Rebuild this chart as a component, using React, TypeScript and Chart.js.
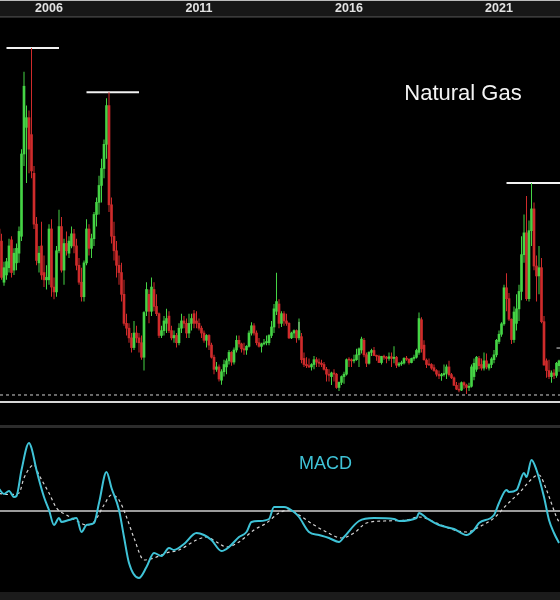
import React, { useEffect, useRef } from 'react';
import { Chart, registerables } from 'chart.js';

Chart.register(...registerables);

// ---------- data ----------
const START_MONTH = '2004-11'; // first monthly candle
const YEAR_TICKS = ['2006', '2011', '2016', '2021'];
const TITLE = 'Natural Gas';
const MACD_TITLE = 'MACD';

// monthly candles, Nov 2004 .. Jul 2023
const OPEN = [
  8.3, 7.8,
  6.1, 6.4, 6.7, 7.85, 6.6, 6.9, 7.3, 8.0, 11.4, 12.5, 12.9, 12.2,
  10.6, 8.5, 6.9, 7.6, 6.5, 6.2, 6.2, 8.3, 5.9, 5.7, 7.4, 8.4,
  6.6, 7.7, 7.3, 7.6, 8.1, 7.6, 6.8, 6.1, 5.5, 6.9, 8.3, 7.5,
  7.9, 8.9, 9.4, 10.1, 10.8, 11.8, 13.4, 9.3, 8.0, 7.4, 6.8, 6.5,
  5.6, 4.4, 4.2, 3.8, 3.4, 4.0, 3.8, 3.6, 3.0, 4.9, 5.6, 4.9,
  5.8, 5.1, 4.8, 3.9, 4.1, 4.4, 4.7, 4.1, 3.8, 3.9, 3.6, 4.2,
  4.5, 4.4, 4.0, 4.4, 4.8, 4.5, 4.4, 4.2, 4.0, 3.7, 3.9, 3.5,
  3.0, 2.5, 2.6, 2.05, 2.4, 2.6, 2.85, 3.2, 2.8, 3.3, 3.7, 3.55,
  3.35, 3.3, 3.45, 4.0, 4.3, 4.0, 3.6, 3.45, 3.55, 3.6, 3.6, 3.9,
  4.25, 4.9, 5.2, 4.4, 4.8, 4.5, 4.4, 3.8, 4.0, 4.1, 3.8, 3.85,
  2.95, 2.7, 2.65, 2.6, 2.7, 2.9, 2.8, 2.75, 2.7, 2.5, 2.3, 2.2,
  2.35, 2.3, 1.75, 1.96, 2.2, 2.3, 2.9, 2.88, 2.85, 2.9, 3.1, 3.3,
  3.7, 3.1, 2.75, 3.2, 3.28, 3.07, 3.04, 2.78, 3.04, 3.0, 2.95, 3.02,
  2.95, 3.0, 2.67, 2.73, 2.76, 2.95, 2.92, 2.78, 2.95, 3.0, 3.2, 4.55,
  3.5, 2.88, 2.72, 2.7, 2.57, 2.45, 2.3, 2.23, 2.28, 2.33, 2.6, 2.28,
  2.15, 1.84, 1.68, 1.64, 1.95, 1.85, 1.75, 1.8, 2.2, 2.5, 2.95, 2.7,
  2.55, 2.85, 2.55, 2.7, 2.9, 3.1, 3.65, 3.95, 4.38, 5.87, 5.42, 4.57,
  3.73, 4.4, 5.0, 5.72, 7.24, 8.14, 5.42, 8.23, 9.13, 6.77, 6.36, 6.7,
  4.47, 2.85, 2.45, 2.2, 2.35, 2.25, 2.65,
];
const HIGH = [
  8.6, 8.1,
  6.95, 7.1, 7.9, 8.0, 7.5, 7.7, 8.4, 11.6, 14.8, 13.4, 13.2, 15.78,
  10.9, 8.8, 7.6, 8.6, 7.2, 6.8, 8.5, 8.7, 6.3, 7.6, 9.1, 8.8,
  7.9, 8.2, 8.0, 8.4, 8.3, 7.9, 7.1, 6.7, 7.0, 8.7, 8.5, 8.1,
  9.0, 9.6, 10.5, 11.2, 12.0, 13.7, 13.95, 9.6, 8.6, 7.8, 7.2, 6.9,
  6.2, 4.8, 4.4, 4.0, 4.5, 4.3, 4.0, 3.9, 4.9, 6.1, 5.8, 6.3,
  6.1, 5.6, 4.85, 4.3, 4.7, 5.0, 4.9, 4.3, 4.1, 4.0, 4.4, 4.8,
  4.7, 4.6, 4.8, 4.8, 4.95, 4.9, 4.6, 4.3, 4.1, 3.95, 3.95, 3.6,
  3.1, 2.8, 2.7, 2.5, 2.9, 2.95, 3.3, 3.25, 3.4, 3.9, 3.9, 3.6,
  3.6, 3.5, 4.1, 4.45, 4.4, 4.1, 3.8, 3.6, 3.75, 3.9, 3.95, 4.5,
  5.2, 6.49, 5.4, 4.9, 4.9, 4.8, 4.45, 4.05, 4.15, 4.15, 4.6, 4.0,
  3.2, 3.0, 2.95, 2.75, 3.05, 3.0, 2.95, 2.9, 2.8, 2.6, 2.5, 2.4,
  2.5, 2.35, 2.0, 2.25, 2.4, 2.95, 3.0, 2.95, 3.1, 3.35, 3.4, 3.85,
  3.8, 3.2, 3.25, 3.35, 3.42, 3.1, 3.1, 3.05, 3.1, 3.05, 3.2, 3.2,
  3.45, 3.05, 2.8, 2.85, 3.0, 3.05, 2.95, 2.98, 3.1, 3.35, 4.85, 4.65,
  3.7, 2.95, 2.95, 2.75, 2.7, 2.5, 2.45, 2.35, 2.7, 2.7, 2.85, 2.35,
  2.2, 1.98, 1.95, 2.0, 2.0, 1.9, 1.95, 2.7, 2.95, 3.05, 3.05, 2.95,
  3.2, 3.15, 2.75, 3.0, 3.3, 3.75, 4.1, 4.45, 6.0, 6.47, 5.65, 4.6,
  5.1, 5.6, 6.0, 8.0, 8.9, 9.66, 8.65, 10.2, 9.4, 7.2, 7.6, 7.1,
  4.7, 2.95, 2.9, 2.45, 2.5, 2.8, 2.9,
];
const LOW = [
  7.4, 6.2,
  5.95, 6.2, 6.5, 6.3, 6.4, 6.6, 6.9, 7.8, 10.9, 10.2, 10.6, 10.4,
  8.3, 6.8, 6.5, 6.2, 5.9, 5.8, 6.0, 5.5, 5.4, 5.5, 7.3, 6.5,
  6.0, 7.2, 7.1, 7.5, 7.3, 6.6, 6.0, 5.3, 5.3, 6.8, 7.2, 7.1,
  7.6, 8.4, 8.9, 9.4, 10.4, 11.2, 9.0, 7.7, 7.0, 6.3, 6.0, 5.3,
  4.3, 3.9, 3.6, 3.2, 3.3, 3.6, 3.2, 2.9, 2.45, 4.7, 4.4, 4.7,
  4.9, 4.7, 3.8, 3.8, 3.9, 4.0, 4.0, 3.7, 3.6, 3.4, 3.5, 4.0,
  4.2, 3.8, 3.8, 4.1, 4.2, 4.2, 4.1, 3.8, 3.6, 3.4, 3.3, 2.95,
  2.3, 2.4, 2.0, 1.86, 2.2, 2.3, 2.7, 2.65, 2.7, 3.2, 3.4, 3.2,
  3.1, 3.1, 3.4, 3.9, 3.9, 3.5, 3.4, 3.2, 3.5, 3.5, 3.5, 3.8,
  4.0, 4.75, 4.2, 4.25, 4.3, 4.3, 3.75, 3.75, 3.8, 3.6, 3.7, 2.75,
  2.6, 2.55, 2.55, 2.45, 2.5, 2.6, 2.6, 2.6, 2.45, 2.0, 2.0, 1.85,
  2.0, 1.7, 1.6, 1.85, 1.9, 2.25, 2.6, 2.6, 2.75, 2.85, 2.6, 3.15,
  3.0, 2.6, 2.7, 3.05, 3.05, 2.85, 2.76, 2.7, 2.9, 2.75, 2.85, 2.6,
  2.75, 2.55, 2.6, 2.65, 2.7, 2.85, 2.7, 2.75, 2.85, 2.95, 3.1, 3.2,
  2.85, 2.55, 2.65, 2.48, 2.4, 2.2, 2.1, 2.03, 2.2, 2.1, 2.2, 2.1,
  1.82, 1.65, 1.55, 1.6, 1.7, 1.48, 1.6, 1.75, 2.05, 2.4, 2.5, 2.45,
  2.45, 2.5, 2.45, 2.55, 2.75, 3.0, 3.55, 3.85, 4.3, 4.9, 4.5, 3.55,
  3.6, 4.1, 4.5, 5.35, 6.9, 5.33, 5.3, 7.6, 6.6, 5.3, 5.6, 4.4,
  2.65, 2.15, 2.1, 1.95, 2.1, 2.15, 2.4,
];
const CLOSE = [
  7.6, 6.3,
  6.7, 6.95, 7.6, 6.5, 7.3, 7.5, 8.2, 11.4, 14.2, 12.9, 11.6, 10.7,
  8.5, 7.0, 7.3, 6.4, 6.2, 6.3, 8.3, 5.9, 5.7, 7.4, 8.4, 6.6,
  7.7, 7.4, 7.8, 8.1, 7.6, 6.8, 6.1, 5.5, 6.9, 8.3, 7.5, 7.9,
  8.9, 9.4, 10.1, 10.8, 11.8, 13.4, 9.3, 8.0, 7.4, 6.8, 6.5, 5.6,
  4.4, 4.2, 3.8, 3.4, 4.0, 3.8, 3.6, 3.0, 4.85, 5.8, 4.9, 5.9,
  5.1, 4.8, 3.9, 4.1, 4.5, 4.6, 4.1, 3.8, 3.9, 3.6, 4.2, 4.5,
  4.4, 4.0, 4.4, 4.6, 4.4, 4.4, 4.2, 4.0, 3.7, 3.9, 3.5, 3.0,
  2.5, 2.6, 2.1, 2.4, 2.7, 2.85, 3.2, 2.8, 3.3, 3.7, 3.55, 3.35,
  3.3, 3.45, 4.0, 4.3, 4.0, 3.6, 3.45, 3.55, 3.56, 3.65, 3.9, 4.25,
  5.0, 5.3, 4.4, 4.8, 4.5, 4.4, 3.8, 4.0, 4.1, 3.8, 4.1, 2.9,
  2.7, 2.65, 2.6, 2.7, 2.9, 2.8, 2.75, 2.7, 2.5, 2.3, 2.25, 2.35,
  2.3, 1.75, 1.96, 2.2, 2.3, 2.9, 2.88, 2.85, 2.9, 3.1, 3.35, 3.75,
  3.1, 2.75, 3.2, 3.28, 3.07, 3.04, 2.78, 3.04, 3.0, 2.95, 3.02, 2.95,
  3.0, 2.67, 2.73, 2.76, 2.95, 2.92, 2.78, 2.95, 3.0, 3.28, 4.6, 3.35,
  2.9, 2.7, 2.68, 2.55, 2.45, 2.3, 2.23, 2.28, 2.33, 2.6, 2.28, 2.15,
  1.84, 1.68, 1.64, 1.95, 1.85, 1.75, 1.8, 2.6, 2.75, 3.0, 2.65, 2.55,
  2.85, 2.6, 2.7, 2.93, 3.1, 3.7, 3.95, 4.38, 5.87, 5.42, 4.57, 3.73,
  4.87, 5.0, 5.72, 7.24, 8.14, 5.42, 8.23, 9.13, 6.77, 6.36, 6.7, 4.47,
  2.68, 2.45, 2.2, 2.35, 2.25, 2.75, 2.85,
];

// horizontal resistance lines at the three peaks
const PEAK_LEVELS = [15.78, 13.95, 10.2];
const PEAK_FROM = ['2005-02', '2007-10', '2021-10'];
const PEAK_TO = ['2006-11', '2009-07', '2023-09'];
const SUPPORT_LEVEL = 1.44;

// small white marks on the chart
const MARK_V_MONTH = '2014-11';
const MARK_V_RANGE = [3.92, 4.46];
const MARK_H_MONTHS = ['2023-06', '2023-09'];
const MARK_H_LEVEL = 3.38;

// MACD line
const MACD_MONTHS = ['2004-11','2005-01','2005-03','2005-05','2005-06','2005-08','2005-11','2005-12','2006-02','2006-05','2006-07','2006-09','2006-11','2006-12','2007-03','2007-06','2007-08','2007-10','2008-01','2008-03','2008-06','2008-08','2008-11','2009-01','2009-03','2009-07','2009-10','2010-01','2010-04','2010-07','2010-09','2011-01','2011-06','2011-09','2011-12','2012-04','2012-07','2012-11','2013-02','2013-04','2013-07','2013-11','2014-01','2014-05','2014-09','2014-11','2015-03','2015-07','2015-11','2016-03','2016-05','2016-11','2017-05','2018-01','2018-03','2018-10','2018-11','2019-02','2019-07','2020-01','2020-06','2020-09','2020-11','2021-05','2021-07','2021-10','2021-11','2022-02','2022-05','2022-06','2022-08','2022-10','2023-01','2023-03','2023-05','2023-07'];
const MACD_VALUES = [0.88,0.68,0.80,0.56,0.60,1.64,2.72,2.52,1.64,0.56,0.04,-0.56,-0.28,-0.44,-0.36,-0.28,-0.84,-0.56,-0.48,0.32,1.56,0.92,0.04,-1.04,-2.08,-2.68,-2.24,-1.68,-1.80,-1.48,-1.56,-1.32,-0.88,-0.96,-1.16,-1.60,-1.44,-1.04,-0.84,-0.44,-0.40,-0.32,0.16,0.16,-0.04,-0.24,-0.84,-0.96,-1.08,-1.24,-1.04,-0.40,-0.28,-0.32,-0.40,-0.28,-0.08,-0.28,-0.56,-0.72,-0.96,-0.76,-0.48,-0.16,0.32,0.84,0.76,0.84,1.52,1.36,2.04,1.64,0.56,-0.36,-0.88,-1.28];

// signal line (dashed)
const SIGNAL_MONTHS = ['2004-11','2005-03','2005-07','2005-09','2006-01','2006-03','2006-07','2006-10','2007-02','2007-07','2007-10','2008-01','2008-05','2008-08','2008-11','2009-02','2009-05','2009-09','2010-01','2010-06','2010-11','2011-06','2011-10','2012-02','2012-06','2012-11','2013-05','2013-10','2014-03','2014-07','2014-11','2015-05','2015-10','2016-04','2016-09','2017-02','2017-09','2018-06','2018-11','2019-06','2020-01','2020-06','2020-11','2021-05','2021-10','2022-03','2022-09','2022-11','2023-02','2023-06','2023-07'];
const SIGNAL_VALUES = [0.70,0.66,0.72,1.32,1.84,1.44,0.72,0.12,-0.16,-0.44,-0.56,-0.44,0.24,0.64,0.44,-0.24,-1.08,-1.96,-1.88,-1.68,-1.56,-1.16,-1.04,-1.24,-1.44,-1.24,-0.76,-0.48,-0.08,0.04,-0.16,-0.56,-0.84,-1.08,-0.88,-0.48,-0.40,-0.36,-0.24,-0.48,-0.76,-0.84,-0.64,-0.28,0.24,0.72,1.36,1.44,0.84,-0.24,-0.44];

// ---------- helpers / styles ----------
const UP = '#45d445';
const DOWN = '#cf2b2b';
const CYAN = '#3fc3d7';
const FONT = '"Liberation Sans", Arial, sans-serif';

const X_MIN = 0.4;
const X_MAX = 224.4;
const PRICE_MIN = 1.15;
const PRICE_MAX = 17.02;
const MACD_MIN = -3.24;
const MACD_MAX = 3.28;

function monthIndex(label: string): number {
  const [y, m] = label.split('-').map(Number);
  const [sy, sm] = START_MONTH.split('-').map(Number);
  return (y - sy) * 12 + (m - sm);
}

const mainDecor = {
  id: 'mainDecor',
  beforeDraw(chart: any) {
    const { ctx, width, height, chartArea } = chart;
    ctx.save();
    ctx.fillStyle = '#000';
    ctx.fillRect(0, 0, width, height);
    ctx.fillStyle = '#171717';
    ctx.fillRect(0, 0, width, chartArea.top);
    ctx.fillStyle = '#bcbcbc';
    ctx.fillRect(0, 0, width, 1);
    ctx.fillStyle = '#3a3a3a';
    ctx.fillRect(0, chartArea.top - 2, width, 1.5);
    ctx.restore();
  },
  afterDraw(chart: any) {
    const { ctx, width, chartArea } = chart;
    ctx.save();
    ctx.fillStyle = '#d6d6d6';
    ctx.fillRect(0, chartArea.bottom - 1, width, 2);
    ctx.font = `22px ${FONT}`;
    ctx.fillStyle = '#f4f4f4';
    ctx.textAlign = 'center';
    ctx.textBaseline = 'alphabetic';
    ctx.fillText(TITLE, 463, 100);
    ctx.restore();
  },
};

const macdDecor = {
  id: 'macdDecor',
  beforeDraw(chart: any) {
    const { ctx, width, height, chartArea } = chart;
    ctx.save();
    ctx.fillStyle = '#000';
    ctx.fillRect(0, 0, width, height);
    ctx.fillStyle = '#2c2c2c';
    ctx.fillRect(0, chartArea.top - 4, width, 3);
    ctx.fillStyle = '#1b1b1b';
    ctx.fillRect(0, chartArea.bottom, width, height - chartArea.bottom);
    ctx.restore();
  },
  afterDraw(chart: any) {
    const { ctx } = chart;
    ctx.save();
    ctx.font = `18px ${FONT}`;
    ctx.fillStyle = CYAN;
    ctx.textAlign = 'left';
    ctx.textBaseline = 'alphabetic';
    ctx.fillText(MACD_TITLE, 299, 65);
    ctx.restore();
  },
};

function hLine(x1: number, x2: number, y: number, color: string, width: number, dash: number[] = []) {
  return {
    type: 'line' as const,
    data: [{ x: x1, y }, { x: x2, y }],
    borderColor: color,
    borderWidth: width,
    borderDash: dash,
    pointRadius: 0,
    tension: 0,
  };
}

export default function App() {
  const topRef = useRef<HTMLCanvasElement>(null);
  const botRef = useRef<HTMLCanvasElement>(null);

  useEffect(() => {
    if (!topRef.current || !botRef.current) return;
    Chart.defaults.font.family = FONT;

    const n = Math.min(OPEN.length, HIGH.length, LOW.length, CLOSE.length);
    const bodies: any[] = [];
    const wicks: any[] = [];
    const colors: string[] = [];
    for (let i = 0; i < n; i++) {
      bodies.push({ x: i, y: [OPEN[i], CLOSE[i]] });
      wicks.push({ x: i, y: [LOW[i], HIGH[i]] });
      colors.push(CLOSE[i] >= OPEN[i] ? UP : DOWN);
    }

    const peakSets = PEAK_LEVELS.map((lvl, k) =>
      hLine(monthIndex(PEAK_FROM[k]), monthIndex(PEAK_TO[k]), lvl, '#f2f2f2', 2)
    );

    const c1 = new Chart(topRef.current, {
      type: 'bar',
      data: {
        datasets: [
          {
            type: 'bar',
            data: bodies,
            backgroundColor: colors,
            borderWidth: 0,
            barThickness: 2,
            minBarLength: 1,
            grouped: false,
          } as any,
          {
            type: 'bar',
            data: wicks,
            backgroundColor: colors,
            borderWidth: 0,
            barThickness: 1,
            inflateAmount: 0,
            grouped: false,
          } as any,
          ...peakSets,
          hLine(X_MIN, X_MAX, SUPPORT_LEVEL, '#cfcfcf', 1, [3, 3]),
          {
            type: 'line',
            data: [
              { x: monthIndex(MARK_V_MONTH), y: MARK_V_RANGE[0] },
              { x: monthIndex(MARK_V_MONTH), y: MARK_V_RANGE[1] },
            ],
            borderColor: '#eeeeee',
            borderWidth: 1,
            pointRadius: 0,
          },
          hLine(monthIndex(MARK_H_MONTHS[0]), monthIndex(MARK_H_MONTHS[1]), MARK_H_LEVEL, '#dddddd', 1),
        ] as any,
      },
      options: {
        responsive: false,
        animation: false,
        devicePixelRatio: 1,
        events: [],
        layout: { padding: { top: 0, right: 0, bottom: 2, left: 0 } },
        plugins: { legend: { display: false }, tooltip: { enabled: false } },
        scales: {
          x: {
            type: 'linear',
            position: 'top',
            min: X_MIN,
            max: X_MAX,
            offset: false,
            bounds: 'data',
            grid: { display: false, drawTicks: false },
            border: { display: false },
            afterBuildTicks: (s: any) => {
              s.ticks = YEAR_TICKS.map((y) => ({ value: monthIndex(`${y}-07`) }));
            },
            afterFit: (s: any) => {
              s.height = 18;
            },
            ticks: {
              callback: (_v: any, i: number) => YEAR_TICKS[i],
              color: '#e2e2e2',
              font: { family: FONT, size: 12.5, weight: 'bold' },
              padding: 1.5,
              maxRotation: 0,
              autoSkip: false,
            },
          },
          y: { type: 'linear', display: false, min: PRICE_MIN, max: PRICE_MAX },
        },
      } as any,
      plugins: [mainDecor],
    });

    const macdPts = MACD_MONTHS.slice(0, MACD_VALUES.length).map((m, i) => ({ x: monthIndex(m), y: MACD_VALUES[i] }));
    const sigPts = SIGNAL_MONTHS.slice(0, SIGNAL_VALUES.length).map((m, i) => ({ x: monthIndex(m), y: SIGNAL_VALUES[i] }));

    const c2 = new Chart(botRef.current, {
      type: 'line',
      data: {
        datasets: [
          {
            data: macdPts,
            borderColor: CYAN,
            borderWidth: 2,
            pointRadius: 0,
            cubicInterpolationMode: 'monotone',
          },
          {
            data: sigPts,
            borderColor: '#d4d4d4',
            borderWidth: 1.2,
            borderDash: [3, 3],
            pointRadius: 0,
            cubicInterpolationMode: 'monotone',
          },
          hLine(X_MIN, X_MAX, 0, '#cfcfcf', 1.5),
        ] as any,
      },
      options: {
        responsive: false,
        animation: false,
        devicePixelRatio: 1,
        events: [],
        layout: { padding: { top: 25, right: 0, bottom: 8, left: 0 } },
        plugins: { legend: { display: false }, tooltip: { enabled: false } },
        scales: {
          x: { type: 'linear', display: false, min: X_MIN, max: X_MAX, offset: false },
          y: { type: 'linear', display: false, min: MACD_MIN, max: MACD_MAX },
        },
      } as any,
      plugins: [macdDecor],
    });

    return () => {
      c1.destroy();
      c2.destroy();
    };
  }, []);

  return (
    <div
      style={{
        position: 'absolute',
        left: 0,
        top: 0,
        width: 560,
        height: 600,
        background: '#000',
        overflow: 'hidden',
      }}
    >
      <canvas ref={topRef} width={560} height={404} style={{ display: 'block' }} />
      <canvas ref={botRef} width={560} height={196} style={{ display: 'block' }} />
    </div>
  );
}
